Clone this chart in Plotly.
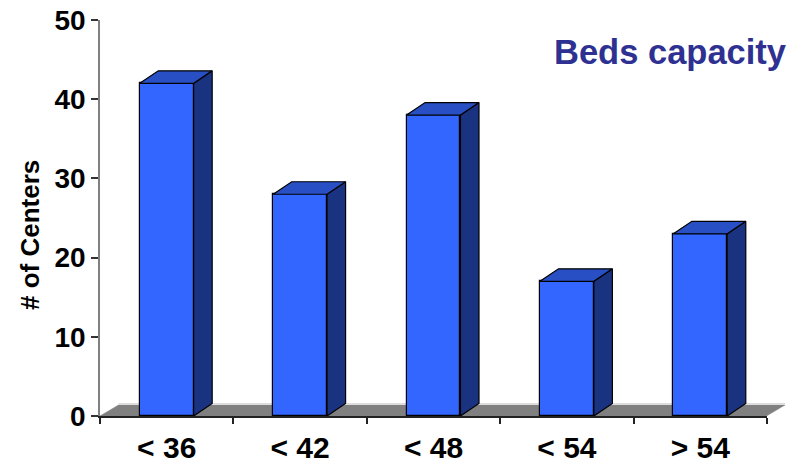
import plotly.graph_objects as go

categories = ["< 36", "< 42", "< 48", "< 54", "> 54"]
centers = [42, 28, 38, 17, 23]
y_ticks = [0, 10, 20, 30, 40, 50]
title_text = "Beds capacity"
y_title = "# of Centers"

FRONT, SIDE, TOP = "#3366FF", "#1A3380", "#2850C4"
DX, DY = 0.139, 1.58   # 3-D depth, in axis units
HALF = 0.202
RIGHT_EXTRA = DX
X_RANGE = [-0.5, 4.5]
Y_RANGE = [0, 50]
OUTLINE = dict(color="#000000", width=1.2)

fig = go.Figure()
N = len(categories)

# floor (wide hidden axes so it can overhang the labelled axis)
fx = [X_RANGE[0], X_RANGE[0] + DX, X_RANGE[1] + DX, X_RANGE[1], X_RANGE[0]]
fy = [0, DY * 0.88, DY * 0.88, 0, 0]
fig.add_trace(go.Scatter(x=fx, y=fy, mode="lines", fill="toself", fillcolor="#808080",
                         line=dict(color="#808080", width=0.5), hoverinfo="skip",
                         showlegend=False, xaxis="x", yaxis="y"))
fig.add_trace(go.Scatter(x=fx[1:3], y=[DY * 0.95] * 2, mode="lines",
                         line=dict(color="#DDDDDD", width=2), hoverinfo="skip",
                         showlegend=False, xaxis="x", yaxis="y"))

# front faces
fig.add_trace(go.Bar(x=list(range(N)), y=centers, width=2 * HALF,
                     marker=dict(color=FRONT, line=OUTLINE), showlegend=False,
                     xaxis="x2", yaxis="y2"))

# side and top faces derived from the values
for i, v in enumerate(centers):
    r, l = i + HALF, i - HALF
    fig.add_trace(go.Scatter(x=[r, r + DX, r + DX, r, r], y=[0, DY, v + DY, v, 0],
                             mode="lines", fill="toself", fillcolor=SIDE, line=OUTLINE,
                             hoverinfo="skip", showlegend=False, xaxis="x2", yaxis="y2"))
    fig.add_trace(go.Scatter(x=[l, l + DX, r + DX, r, l], y=[v, v + DY, v + DY, v, v],
                             mode="lines", fill="toself", fillcolor=TOP, line=OUTLINE,
                             hoverinfo="skip", showlegend=False, xaxis="x2", yaxis="y2"))

W, H = 790, 464
L, R, T, B = 100, 5, 20, 48
plot_w = W - L - R
plot_h = H - T - B
main_w = 667

fig.update_layout(
    width=W, height=H, autosize=False,
    margin=dict(l=L, r=R, t=T, b=B, autoexpand=False),
    paper_bgcolor="white", plot_bgcolor="rgba(0,0,0,0)",
    font=dict(family="Liberation Sans", color="black"),
    bargap=0,
    xaxis=dict(domain=[0, 1], range=[X_RANGE[0], X_RANGE[1] + RIGHT_EXTRA], visible=False, anchor="y"),
    yaxis=dict(domain=[0, 1], range=Y_RANGE, visible=False, anchor="x"),
    xaxis2=dict(domain=[0, main_w / plot_w], range=X_RANGE, anchor="y2", automargin=False,
                tickmode="array", tickvals=list(range(N)), ticktext=categories,
                ticks="outside", ticklen=4, tickcolor="rgba(0,0,0,0)",
                tickfont=dict(size=30, family="Liberation Sans", color="black", weight="bold"),
                showline=True, linecolor="#222222", linewidth=1.5, showgrid=False, zeroline=False,
                minor=dict(tickmode="array", tickvals=[i - 0.5 for i in range(N + 1)],
                           ticks="outside", ticklen=6, tickcolor="#222222", tickwidth=1.5,
                           showgrid=False)),
    yaxis2=dict(domain=[0, 1], range=Y_RANGE, anchor="x2", automargin=False,
                tickmode="array", tickvals=y_ticks,
                ticks="outside", ticklen=7, tickcolor="#333333", tickwidth=1.5,
                tickfont=dict(size=28, family="Liberation Sans", color="black", weight="bold"),
                showline=True, linecolor="#808080", linewidth=1.5, showgrid=False, zeroline=False),
    annotations=[
        dict(text=title_text, xref="paper", yref="paper", x=1, xshift=3, xanchor="right",
             y=(H - B - 52) / plot_h, yanchor="middle", showarrow=False,
             font=dict(size=34.5, family="Liberation Sans", color="#2E3192", weight="bold")),
        dict(text=y_title, xref="paper", yref="paper", x=(30 - L) / plot_w, xanchor="center",
             y=(H - B - 235) / plot_h, yanchor="middle", showarrow=False, textangle=-90,
             font=dict(size=26, family="Liberation Sans", color="black", weight="bold")),
    ],
)

fig.write_html("out.html", config={"displayModeBar": False},
               post_script="document.body.style.margin='0';")
